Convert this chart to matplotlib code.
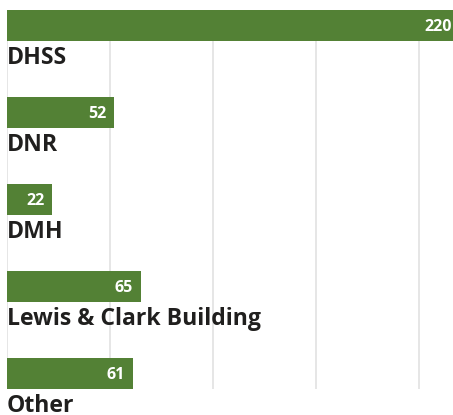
import matplotlib
matplotlib.use('Agg')
import matplotlib.pyplot as plt

# data
categories = ['DHSS', 'DNR', 'DMH', 'Lewis & Clark Building', 'Other']
values = [220, 52, 22, 65, 61]
gridticks = [0, 50, 100, 150, 200]

bar_color = '#538135'
text_color = '#201f1e'
grid_color = '#e1e1e1'
font = 'Open Sans'

W, H = 453, 415
fig = plt.figure(figsize=(W / 100, H / 100), dpi=100)
# axes runs a little past the right edge so the long bar gets clipped
ax = fig.add_axes([7 / W, (H - 389) / H, 453 / W, 379 / H])

bh = 0.356
pos = list(range(len(categories)))
ax.barh(pos, values, height=bh, color=bar_color, zorder=2)

ax.set_xlim(0, 220)
ax.set_ylim(len(categories) - 1 + bh / 2, -bh / 2)

for g in gridticks:
    ax.axvline(g, color=grid_color, lw=1.2, zorder=1)

for p, v, c in zip(pos, values, categories):
    ax.annotate(str(v), xy=(v, p), xytext=(-5.5, -4.2), textcoords='offset points',
                ha='right', va='baseline', color='white', fontsize=11.5,
                fontweight='bold', family=font, zorder=3)
    ax.text(0, p + bh / 2 + 0.26, c, ha='left', va='baseline', color=text_color,
            fontsize=16.6, fontweight='bold', family=font, clip_on=False)

for s in ax.spines.values():
    s.set_visible(False)
ax.set_xticks([])
ax.set_yticks([])

fig.savefig('out.png', dpi=100)
